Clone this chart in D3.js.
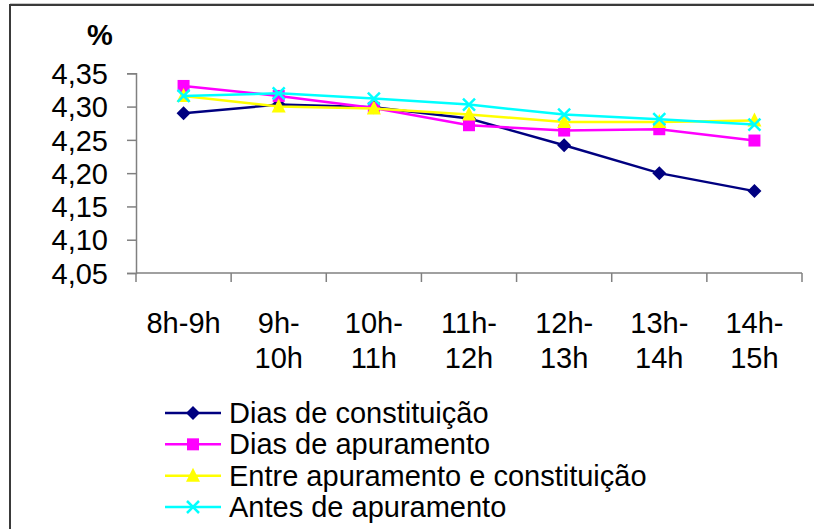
<!DOCTYPE html>
<html>
<head>
<meta charset="utf-8">
<script src="https://cdn.jsdelivr.net/npm/d3@7"></script>
<style>
  html, body { margin: 0; padding: 0; background: #fff; }
  svg { display: block; }
  text { font-family: "Liberation Sans", Arial, sans-serif; fill: #000; }
</style>
</head>
<body>
<svg id="chart" width="814" height="529"></svg>
<script>
// Hourly intervals
const categories = ["8h-9h", "9h-10h", "10h-11h", "11h-12h", "12h-13h", "13h-14h", "14h-15h"];
// How each interval label wraps under the axis
const categoryLines = [["8h-9h"], ["9h-", "10h"], ["10h-", "11h"], ["11h-", "12h"], ["12h-", "13h"], ["13h-", "14h"], ["14h-", "15h"]];

const seriesNames = ["Dias de constituição", "Dias de apuramento", "Entre apuramento e constituição", "Antes de apuramento"];
const diasConstituicao = [4.290, 4.303, 4.299, 4.282, 4.242, 4.200, 4.173];
const diasApuramento   = [4.331, 4.316, 4.298, 4.272, 4.264, 4.266, 4.249];
const entreApuramento  = [4.316, 4.300, 4.297, 4.288, 4.277, 4.277, 4.279];
const antesApuramento  = [4.316, 4.320, 4.312, 4.303, 4.288, 4.281, 4.273];

const yTicks = [4.05, 4.10, 4.15, 4.20, 4.25, 4.30, 4.35];
const yUnit = "%";

const seriesValues = [diasConstituicao, diasApuramento, entreApuramento, antesApuramento];
const seriesColors = ["#000080", "#ff00ff", "#ffff00", "#00ffff"];
const seriesMarkers = ["diamond", "square", "triangle", "cross"];

const svg = d3.select("#chart");
const font = 29;

// outer frame (left and top edges visible)
svg.append("path")
  .attr("d", "M10,529 V5 H814")
  .attr("fill", "none").attr("stroke", "#3a3a3a").attr("stroke-width", 2);
svg.append("line").attr("x1", 10).attr("x2", 814).attr("y1", 3.5).attr("y2", 3.5)
  .attr("stroke", "#c8c8c8").attr("stroke-width", 1);

const x = d3.scaleBand().domain(categories).range([136, 802]).padding(0);
const y = d3.scaleLinear().domain([4.05, 4.35]).range([273, 73.3]);

// y axis
const yAxis = d3.axisLeft(y)
  .tickValues(yTicks)
  .tickSize(9)
  .tickPadding(19)
  .tickFormat(d => d.toFixed(2).replace(".", ","));
const gy = svg.append("g").attr("transform", "translate(136,0)").call(yAxis);
gy.select(".domain").attr("stroke", "#808080").attr("stroke-width", 1.5);
gy.selectAll(".tick line").attr("stroke", "#808080").attr("stroke-width", 1.5);
gy.selectAll(".tick text")
  .attr("font-size", font)
  .attr("font-family", "'Liberation Sans', Arial, sans-serif")
  .attr("fill", "#000")
  .attr("dy", "0.35em");

// unit label
svg.append("text")
  .attr("x", 100).attr("y", 45)
  .attr("text-anchor", "middle")
  .attr("font-size", font).attr("font-weight", "bold")
  .text(yUnit);

// x axis: line with ticks on the category boundaries
const gx = svg.append("g");
gx.append("line")
  .attr("x1", x.range()[0]).attr("x2", x.range()[1])
  .attr("y1", y(4.05)).attr("y2", y(4.05))
  .attr("stroke", "#808080").attr("stroke-width", 1.5);
const bounds = categories.map(c => x(c)).concat([x.range()[1]]);
gx.selectAll("line.tk").data(bounds).join("line")
  .attr("class", "tk")
  .attr("x1", d => d).attr("x2", d => d)
  .attr("y1", y(4.05)).attr("y2", y(4.05) + 9)
  .attr("stroke", "#808080").attr("stroke-width", 1.5);

const labels = gx.selectAll("text.xl").data(categories).join("text")
  .attr("class", "xl")
  .attr("text-anchor", "middle")
  .attr("font-size", font)
  .attr("transform", d => `translate(${x(d) + x.bandwidth() / 2},333)`);
labels.selectAll("tspan").data((d, i) => categoryLines[i]).join("tspan")
  .attr("x", 0)
  .attr("y", (d, i) => i * 35)
  .text(d => d);

// marker drawing
function drawMarker(g, type, color, cx, cy) {
  if (type === "diamond") {
    g.append("path")
      .attr("d", `M${cx},${cy - 7} L${cx + 7},${cy} L${cx},${cy + 7} L${cx - 7},${cy} Z`)
      .attr("fill", color);
  } else if (type === "square") {
    g.append("rect")
      .attr("x", cx - 6).attr("y", cy - 6).attr("width", 12).attr("height", 12)
      .attr("fill", color);
  } else if (type === "triangle") {
    g.append("path")
      .attr("d", `M${cx},${cy - 8} L${cx + 7},${cy + 6} L${cx - 7},${cy + 6} Z`)
      .attr("fill", color);
  } else {
    g.append("path")
      .attr("d", `M${cx - 6},${cy - 6} L${cx + 6},${cy + 6} M${cx + 6},${cy - 6} L${cx - 6},${cy + 6}`)
      .attr("stroke", color).attr("stroke-width", 2.5).attr("fill", "none");
  }
}

// series lines and markers
const line = d3.line()
  .x((d, i) => x(categories[i]) + x.bandwidth() / 2)
  .y(d => y(d));

seriesValues.forEach((vals, s) => {
  const g = svg.append("g");
  g.append("path")
    .attr("d", line(vals))
    .attr("fill", "none")
    .attr("stroke", seriesColors[s])
    .attr("stroke-width", 2.5);
  vals.forEach((v, i) => {
    drawMarker(g, seriesMarkers[s], seriesColors[s], x(categories[i]) + x.bandwidth() / 2, y(v));
  });
});

// legend
const legendY = d3.scalePoint().domain(seriesNames).range([413, 507]);
seriesNames.forEach((name, s) => {
  const g = svg.append("g");
  const ly = legendY(name);
  g.append("line")
    .attr("x1", 165).attr("x2", 221).attr("y1", ly).attr("y2", ly)
    .attr("stroke", seriesColors[s]).attr("stroke-width", 2.5);
  drawMarker(g, seriesMarkers[s], seriesColors[s], 193, ly);
  g.append("text")
    .attr("x", 229).attr("y", ly)
    .attr("dy", "0.35em")
    .attr("font-size", font)
    .text(name);
});
</script>
</body>
</html>
